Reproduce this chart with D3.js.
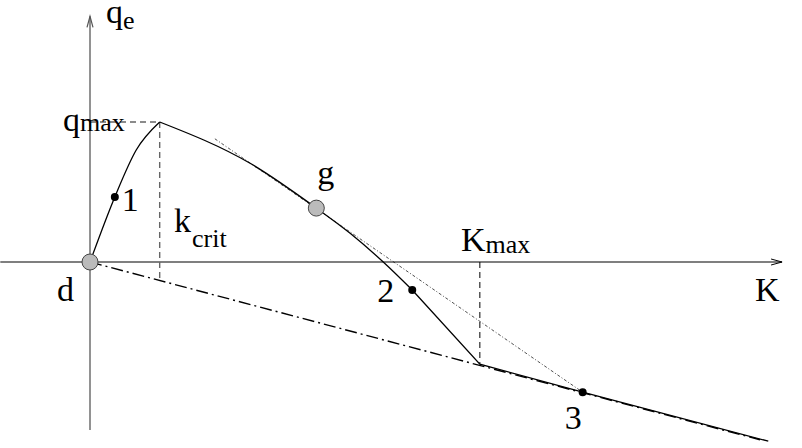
<!DOCTYPE html>
<html>
<head>
<meta charset="utf-8">
<script src="https://cdn.jsdelivr.net/npm/d3@7"></script>
<style>
  body { margin: 0; background: #fff; }
</style>
</head>
<body>
<svg id="chart" width="802" height="448" font-family="'Liberation Serif', 'Times New Roman', Times, serif"></svg>
<script>
// Fundamental diagram sketch: excess flow q_e against density K (arbitrary units)
const freeK = [0, 0.36, 0.67, 1.01];            // free-flow branch d -> q_max
const freeQ = [0, 0.93, 1.60, 2.00];
const congK = [1.01, 2.32, 3.28, 3.77, 4.25, 4.67]; // congested branch q_max -> 2
const congQ = [2.00, 1.41, 0.77, 0.41, 0.00, -0.40];
const jamK = [4.67, 5.65, 7.14, 9.83];          // 2 -> K_max -> 3 -> beyond
const jamQ = [-0.40, -1.46, -1.86, -2.56];
const refK = [0, 9.71];                         // dash-dot reference line from d
const refQ = [0, -2.54];
const tanK = [1.81, 7.14];                      // tangent through g
const tanQ = [1.76, -1.86];
const kCrit = 1.01, qMax = 2.0, kMax = 5.65;
const markK = [0.36, 4.67, 7.14];               // black state points
const markQ = [0.93, -0.40, -1.86];
const markLabels = ["1", "2", "3"];
const ringK = [0, 3.28];                        // grey state points
const ringQ = [0, 0.77];
const ringLabels = ["d", "g"];
const axisK = [-1.3, 10.03];
const axisQ = [-2.4, 3.51];

const svg = d3.select("#chart");
const x = d3.scaleLinear().domain([0, 10]).range([90, 780]);
const y = d3.scaleLinear().domain([0, 2]).range([262, 122]);
const pts = (ks, qs) => ks.map((k, i) => [k, qs[i]]);
const line = d3.line().x(d => x(d[0])).y(d => y(d[1]));
const smooth = d3.line().x(d => x(d[0])).y(d => y(d[1])).curve(d3.curveMonotoneX);

// axes
svg.append("line")
  .attr("x1", x(0)).attr("x2", x(0)).attr("y1", y(axisQ[0])).attr("y2", y(axisQ[1]))
  .attr("stroke", "#777").attr("stroke-width", 1.6);
svg.append("path")
  .attr("d", `M${x(0) - 3},${y(axisQ[1]) + 11}L${x(0)},${y(axisQ[1])}L${x(0) + 3},${y(axisQ[1]) + 11}`)
  .attr("fill", "none").attr("stroke", "#555").attr("stroke-width", 1.2);
svg.append("line")
  .attr("x1", x(axisK[0])).attr("x2", x(axisK[1])).attr("y1", y(0)).attr("y2", y(0))
  .attr("stroke", "#000").attr("stroke-width", 1.2);
svg.append("path")
  .attr("d", `M${x(axisK[1]) - 11},${y(0) - 3}L${x(axisK[1])},${y(0)}L${x(axisK[1]) - 11},${y(0) + 3}`)
  .attr("fill", "none").attr("stroke", "#000").attr("stroke-width", 1);

// helper lines
const dashed = (x1, y1, x2, y2, col) => svg.append("line")
  .attr("x1", x1).attr("y1", y1).attr("x2", x2).attr("y2", y2)
  .attr("stroke", col).attr("stroke-width", 1.4).attr("stroke-dasharray", "6,4");
dashed(x(0), y(qMax), x(kCrit), y(qMax), "#666");
dashed(x(kCrit), y(qMax), x(kCrit), y(refQ[1] / refK[1] * kCrit), "#666");
dashed(x(kMax), y(0), x(kMax), y(jamQ[1]), "#000").attr("stroke-width", 1);

svg.append("path").attr("d", line(pts(refK, refQ)))
  .attr("fill", "none").attr("stroke", "#000").attr("stroke-width", 1.4)
  .attr("stroke-dasharray", "12,4,2,4");
svg.append("path").attr("d", line(pts(tanK, tanQ)))
  .attr("fill", "none").attr("stroke", "#222").attr("stroke-width", 0.8)
  .attr("stroke-dasharray", "3,2,1,2");

// flow curve
svg.append("path").attr("d", smooth(pts(freeK, freeQ)))
  .attr("fill", "none").attr("stroke", "#000").attr("stroke-width", 1.3);
svg.append("path").attr("d", smooth(pts(congK, congQ)))
  .attr("fill", "none").attr("stroke", "#000").attr("stroke-width", 1.3);
svg.append("path").attr("d", line(pts(jamK, jamQ)))
  .attr("fill", "none").attr("stroke", "#000").attr("stroke-width", 1.3);

// state points
svg.selectAll("circle.ring").data(pts(ringK, ringQ)).join("circle")
  .attr("class", "ring").attr("cx", d => x(d[0])).attr("cy", d => y(d[1])).attr("r", 8)
  .attr("fill", "#bbb").attr("stroke", "#444").attr("stroke-width", 1);
svg.selectAll("circle.mark").data(pts(markK, markQ)).join("circle")
  .attr("class", "mark").attr("cx", d => x(d[0])).attr("cy", d => y(d[1])).attr("r", 4)
  .attr("fill", "#000");

// labels
const FS = 34, SUB = 26;
const label = (tx, ty, s, size) => svg.append("text")
  .attr("x", tx).attr("y", ty).attr("font-size", size || FS).attr("fill", "#000").text(s);
const markOff = [[7, 14], [-35, 12], [-18, 37]];
markLabels.forEach((s, i) => label(x(markK[i]) + markOff[i][0], y(markQ[i]) + markOff[i][1], s));
const ringOff = [[-33, 39], [1, -24]];
ringLabels.forEach((s, i) => label(x(ringK[i]) + ringOff[i][0], y(ringQ[i]) + ringOff[i][1], s));

const qe = label(106, 23, "q");
qe.append("tspan").attr("font-size", SUB).attr("dy", 6).text("e");
const qm = label(63, 131, "q");
qm.append("tspan").attr("font-size", SUB).attr("dy", 0).text("max");
label(174, 232, "k");
label(192, 247, "crit", SUB);
const km = label(461, 251, "K");
km.append("tspan").attr("font-size", SUB).attr("dy", 2).text("max");
label(755, 301, "K");
</script>
</body>
</html>
